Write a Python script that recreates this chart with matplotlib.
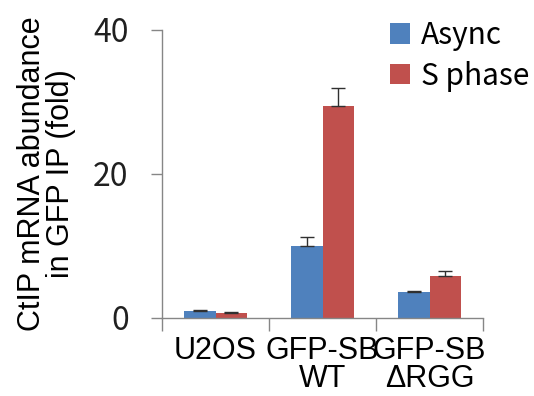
import matplotlib
matplotlib.use("Agg")
import matplotlib.pyplot as plt
import numpy as np

categories = ["U2OS", "GFP-SB\nWT", "GFP-SB\n\u0394RGG"]
series_names = ["Async", "S phase"]
async_vals = [1.0, 10.0, 3.6]
async_err = [0.1, 1.3, 0.1]
sphase_vals = [0.7, 29.4, 5.9]
sphase_err = [0.1, 2.5, 0.6]
yticks = [0, 20, 40]

colors = ["#4F81BD", "#C0504D"]
spine_c = "#868686"

fig = plt.figure(figsize=(5.34, 3.96), dpi=100)
ax = fig.add_axes([162/534, 1-318/396, (483-162)/534, (318-30)/396])

x = np.arange(len(categories))
w = 0.29
for i, (vals, errs) in enumerate([(async_vals, async_err), (sphase_vals, sphase_err)]):
    pos = x + (i - 0.5) * w
    ax.bar(pos, vals, width=w, color=colors[i], label=series_names[i], zorder=2)
    ax.errorbar(pos, vals, yerr=[np.zeros(len(errs)), errs], fmt="none",
                ecolor="#303030", elinewidth=1.0, capsize=5, capthick=1.0, zorder=3)

ax.set_xlim(-0.5, len(categories) - 0.5)
ax.set_ylim(0, 40)
ax.set_yticks(yticks)
ax.set_yticklabels([str(t) for t in yticks], fontsize=23, family="Noto Sans CJK KR", color="#202020")
ax.tick_params(axis="y", length=8, width=1, color=spine_c, pad=16)

ax.set_xticks(x)
ax.set_xticklabels(categories, fontsize=22, family="Liberation Sans", linespacing=0.9)
ax.tick_params(axis="x", which="major", length=0, pad=13)
ax.set_xticks(np.arange(len(categories) + 1) - 0.5, minor=True)
ax.tick_params(axis="x", which="minor", length=9, width=1, color=spine_c)

for s in ["top", "right"]:
    ax.spines[s].set_visible(False)
for s in ["left", "bottom"]:
    ax.spines[s].set_color(spine_c)
    ax.spines[s].set_linewidth(1)

ax.set_ylabel("CtIP mRNA abundance\nin GFP IP (fold)", fontsize=22, family="Liberation Sans",
              linespacing=1.0, labelpad=12)

leg = ax.legend(loc="upper left", bbox_to_anchor=(390/534, 1-20/396), bbox_transform=fig.transFigure,
                frameon=False, borderaxespad=0, borderpad=0,
                prop={"family": "Noto Sans CJK KR", "size": 21.5}, handlelength=0.68,
                handleheight=0.68, handletextpad=0.35, labelspacing=0.32)

fig.savefig("out.png", dpi=100)
